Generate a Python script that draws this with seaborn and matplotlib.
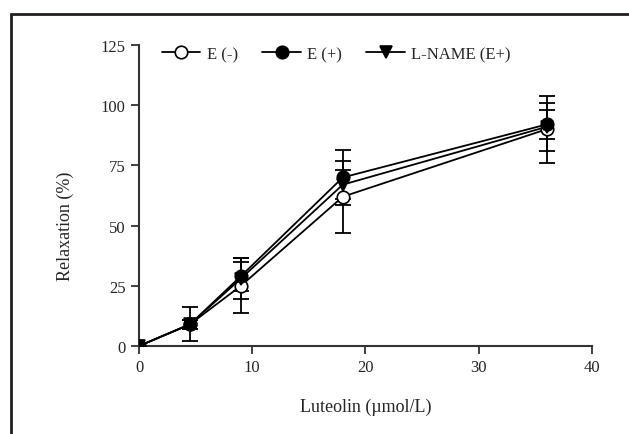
import pandas as pd
import matplotlib.pyplot as plt
import matplotlib.patches as patches
import seaborn as sns

# Luteolin concentrations and relaxation (mean +/- error)
conc = [0, 4.5, 9, 18, 36]
e_minus = [0, 9, 25, 62, 90]
e_minus_err = [0, 7, 11.5, 15, 14]
e_plus = [0, 9, 29, 70, 92]
e_plus_err = [0, 2, 6, 11.5, 6]
lname = [0, 9, 28, 67, 91]
lname_err = [0, 2, 8.5, 6, 10]

sns.set_style("ticks")
plt.rcParams['font.family'] = ['Liberation Serif', 'DejaVu Serif']
plt.rcParams['font.size'] = 12

fig = plt.figure(figsize=(6.29, 4.35), dpi=100)
ax = fig.add_axes([0.221, 0.2023, 0.72, 0.692])

# outer frame (partially cut off by the image edge)
frame = patches.Rectangle((11 / 629, -0.1), 1.2, 1.1 - 15 / 435, transform=fig.transFigure,
                          fill=False, edgecolor='#231f20', linewidth=2, clip_on=False)
fig.patches.append(frame)

series = [
    ('E (-)', e_minus, e_minus_err, 'o', 'white'),
    ('E (+)', e_plus, e_plus_err, 'o', 'black'),
    ('L-NAME (E+)', lname, lname_err, 'v', 'black'),
]

for name, vals, errs, mk, fc in series:
    df = pd.DataFrame({'conc': conc, 'relax': vals})
    ax.errorbar(conc, vals, yerr=errs, fmt='none', ecolor='black', elinewidth=1.3,
                capsize=6, capthick=1.3, zorder=2)
    sns.lineplot(data=df, x='conc', y='relax', ax=ax, color='black', linewidth=1.3,
                 marker=mk, markersize=9, markerfacecolor=fc, markeredgecolor='black',
                 markeredgewidth=1.2, label=name, zorder=3)

ax.set_xlim(0, 40)
ax.set_ylim(0, 125)
ax.set_xticks([0, 10, 20, 30, 40])
ax.set_yticks([0, 25, 50, 75, 100, 125])
ax.set_xlabel('Luteolin (µmol/L)', fontsize=13, labelpad=16)
ax.set_ylabel('Relaxation (%)', fontsize=13)
ax.yaxis.set_label_coords(-0.143, 0.4)
ax.tick_params(direction='out', length=6, width=1.3, labelsize=12, color='#333333')
for s in ['left', 'bottom']:
    ax.spines[s].set_linewidth(1.5)
    ax.spines[s].set_color('#333333')
sns.despine(ax=ax)

ax.legend(loc='center left', bbox_to_anchor=(0.051, 0.97), ncol=3, frameon=False,
          handlelength=2.3, handletextpad=0.4, columnspacing=1.45,
          borderpad=0, borderaxespad=0, fontsize=12)

fig.savefig('out.png', dpi=100)
